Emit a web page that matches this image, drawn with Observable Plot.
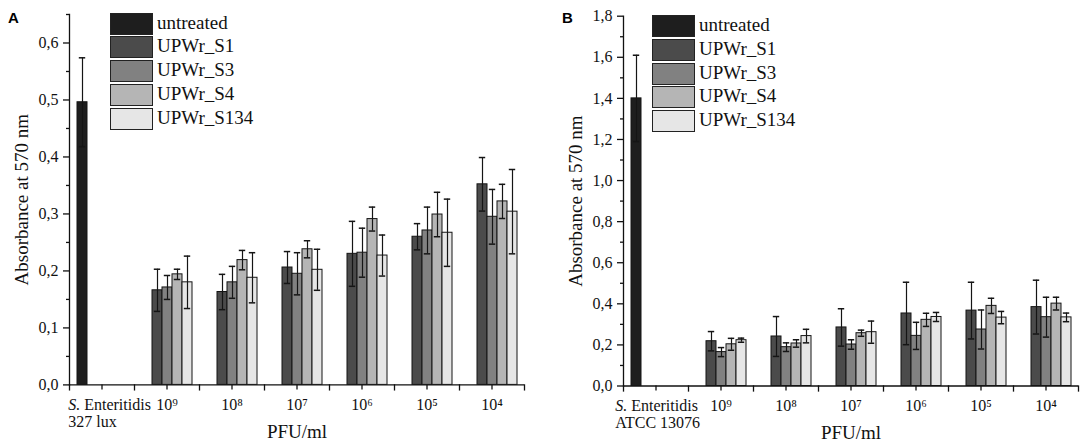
<!DOCTYPE html>
<html>
<head>
<meta charset="utf-8">
<script src="https://cdn.jsdelivr.net/npm/d3@7"></script>
<script src="https://cdn.jsdelivr.net/npm/@observablehq/plot@0.6"></script>
<style>
  html, body { margin: 0; padding: 0; background: #fff; }
  #root { position: relative; width: 1084px; height: 444px; overflow: hidden; font-family: "Liberation Serif", "Times New Roman", serif; }
  .panel { position: absolute; top: 0; }
  .letter { position: absolute; font-family: "Liberation Sans", Arial, sans-serif; font-weight: bold; font-size: 15px; }
  .legend { position: absolute; }
  .legend .row { position: absolute; left: 0; height: 21px; white-space: nowrap; }
  .legend .sw { position: absolute; left: 0; top: 0; width: 41px; height: 20px; border: 1px solid #222; box-sizing: content-box; }
  .legend .lb { position: absolute; left: 47px; top: -1px; font-size: 19px; line-height: 22px; color: #111; }
  g[aria-label="y-axis label"] text, g[aria-label="fx-axis label"] text { font-size: 19px; }
</style>
</head>
<body>
<div id="root"></div>
<script>
// ---- data ----
const series = ["untreated", "UPWr_S1", "UPWr_S3", "UPWr_S4", "UPWr_S134"];
const doses = ["10⁹", "10⁸", "10⁷", "10⁶", "10⁵", "10⁴"];
const controlA = "S. Enteritidis\n327 lux";
const controlB = "S. Enteritidis\nATCC 13076";

// Panel A
const untreatedA = 0.496, untreatedErrA = 0.078;
const s1A    = [0.166, 0.163, 0.206, 0.230, 0.260, 0.352];
const s1ErrA = [0.037, 0.031, 0.028, 0.057, 0.023, 0.047];
const s3A    = [0.171, 0.180, 0.195, 0.232, 0.271, 0.295];
const s3ErrA = [0.021, 0.028, 0.037, 0.043, 0.041, 0.048];
const s4A    = [0.194, 0.219, 0.238, 0.291, 0.299, 0.322];
const s4ErrA = [0.009, 0.017, 0.015, 0.021, 0.039, 0.030];
const s134A    = [0.180, 0.188, 0.202, 0.227, 0.267, 0.304];
const s134ErrA = [0.046, 0.044, 0.036, 0.036, 0.059, 0.074];

// Panel B
const untreatedB = 1.400, untreatedErrB = 0.210;
const s1B    = [0.218, 0.241, 0.285, 0.353, 0.367, 0.384];
const s1ErrB = [0.047, 0.097, 0.091, 0.152, 0.138, 0.131];
const s3B    = [0.165, 0.189, 0.202, 0.244, 0.275, 0.335];
const s3ErrB = [0.022, 0.021, 0.023, 0.066, 0.095, 0.097];
const s4B    = [0.203, 0.207, 0.257, 0.322, 0.390, 0.401];
const s4ErrB = [0.029, 0.018, 0.015, 0.032, 0.037, 0.031];
const s134B    = [0.223, 0.243, 0.262, 0.336, 0.333, 0.334];
const s134ErrB = [0.010, 0.033, 0.054, 0.022, 0.030, 0.021];

const yTicksA = d3.range(0, 0.61, 0.1);
const yMinorA = d3.range(0.05, 0.651, 0.1);
const yTicksB = d3.range(0, 1.81, 0.2);
const yMinorB = d3.range(0.1, 1.8, 0.2);

// ---- styles ----
const colors = ["#1e1e1e", "#4b4b4b", "#818181", "#b5b5b5", "#e6e6e6"];
const serif = '"Liberation Serif", "Times New Roman", serif';

function buildRows(control, u, uErr, lists) {
  const rows = [{cat: control, series: series[0], value: u, err: uErr}];
  lists.forEach(([vals, errs], i) => {
    vals.forEach((v, j) => rows.push({cat: doses[j], series: series[i + 1], value: v, err: errs[j]}));
  });
  return rows;
}
const rowsA = buildRows(controlA, untreatedA, untreatedErrA, [[s1A, s1ErrA], [s3A, s3ErrA], [s4A, s4ErrA], [s134A, s134ErrA]]);
const rowsB = buildRows(controlB, untreatedB, untreatedErrB, [[s1B, s1ErrB], [s3B, s3ErrB], [s4B, s4ErrB], [s134B, s134ErrB]]);

const fmt = d => d.toFixed(1).replace(".", ",");

function panel(o) {
  const plotH = o.height - o.marginTop - o.marginBottom;
  return Plot.plot({
    width: o.width, height: o.height,
    marginLeft: o.marginLeft, marginRight: o.marginRight,
    marginTop: o.marginTop, marginBottom: o.marginBottom,
    style: {fontFamily: serif, fontSize: "16px", color: "#111", background: "transparent", overflow: "visible"},
    fx: {domain: [o.control, ...doses], padding: 0},
    x: {domain: series, paddingInner: 0, paddingOuter: 0.565, align: 0.5, axis: null},
    y: {domain: o.yDomain},
    color: {domain: series, range: colors},
    marks: [
      Plot.ruleY([0], {stroke: "#111", strokeWidth: 1.3}),
      Plot.frame({anchor: "left", facet: "super", stroke: "#111", strokeWidth: 1.3}),
      Plot.frame({anchor: "left", insetTop: plotH, insetBottom: -5, stroke: "#111", strokeWidth: 1.3}),
      Plot.frame({anchor: "right", facet: "super", insetTop: plotH, insetBottom: -5, stroke: "#111", strokeWidth: 1.3}),
      Plot.axisY(o.yTicks, {tickSize: 6, tickPadding: 5, tickFormat: fmt, strokeWidth: 1.3,
        label: "Absorbance at 570 nm", labelAnchor: "center", labelArrow: "none", labelOffset: 55}),
      Plot.axisY(o.yMinor, {tickSize: 3, tickFormat: () => "", label: null, strokeWidth: 1.3}),
      Plot.axisFx({anchor: "bottom", tickSize: 5, tickPadding: 8, strokeWidth: 1.3, lineHeight: 1.05,
        label: "PFU/ml", labelAnchor: "center", labelArrow: "none", labelOffset: 53}),
      Plot.barY(o.rows, {fx: "cat", x: "series", y: "value", fill: "series", stroke: "#151515", strokeWidth: 1, inset: 0}),
      Plot.ruleX(o.rows, {fx: "cat", x: "series", y1: d => d.value - d.err, y2: d => d.value + d.err, stroke: "#151515", strokeWidth: 1.2}),
      Plot.tickY(o.rows, {fx: "cat", x: "series", y: d => d.value + d.err, insetLeft: 1.8, insetRight: 1.8, stroke: "#151515", strokeWidth: 1.5}),
      Plot.tickY(o.rows, {fx: "cat", x: "series", y: d => d.value - d.err, insetLeft: 1.8, insetRight: 1.8, stroke: "#151515", strokeWidth: 1.5})
    ]
  });
}

function fixControlLabel(svg, shift) {
  const ns = "http://www.w3.org/2000/svg";
  svg.querySelectorAll("text").forEach(t => {
    if (!t.textContent.includes("Enteritidis")) return;
    const spans = Array.from(t.children).filter(c => c.tagName === "tspan");
    if (!spans.length) return;
    const first = spans[0];
    let w = 84;
    try { w = first.getComputedTextLength(); } catch (e) {}
    const txt = first.textContent;
    first.textContent = "";
    const it = document.createElementNS(ns, "tspan");
    it.setAttribute("font-style", "italic");
    it.textContent = txt.slice(0, 2);
    first.appendChild(it);
    first.appendChild(document.createTextNode(txt.slice(2)));
    t.setAttribute("text-anchor", "start");
    spans.forEach(s => s.setAttribute("x", -w / 2 + shift));
  });
}

function addLegend(root, left, top) {
  const lg = document.createElement("div");
  lg.className = "legend";
  lg.style.left = left + "px";
  lg.style.top = top + "px";
  series.forEach((s, i) => {
    const row = document.createElement("div");
    row.className = "row";
    row.style.top = (i * 23.8) + "px";
    const sw = document.createElement("div");
    sw.className = "sw";
    sw.style.background = colors[i];
    const lb = document.createElement("div");
    lb.className = "lb";
    lb.textContent = s;
    row.appendChild(sw); row.appendChild(lb);
    lg.appendChild(row);
  });
  root.appendChild(lg);
}

const root = document.getElementById("root");

const pA = document.createElement("div");
pA.className = "panel"; pA.style.left = "0px";
root.appendChild(pA);
const svgA = panel({control: controlA, rows: rowsA, yDomain: [0, 0.65], yTicks: yTicksA, yMinor: yMinorA,
  width: 545, height: 444, marginLeft: 67, marginRight: 19, marginTop: 14, marginBottom: 59.6});
pA.appendChild(svgA);
fixControlLabel(svgA, 8);

const pB = document.createElement("div");
pB.className = "panel"; pB.style.left = "545px";
root.appendChild(pB);
const svgB = panel({control: controlB, rows: rowsB, yDomain: [0, 1.8], yTicks: yTicksB, yMinor: yMinorB,
  width: 539, height: 444, marginLeft: 76, marginRight: 3.5, marginTop: 15.7, marginBottom: 58.5});
pB.appendChild(svgB);
fixControlLabel(svgB, 1);

addLegend(root, 110, 12.7);
addLegend(root, 652, 15);

const la = document.createElement("div"); la.className = "letter"; la.textContent = "A";
la.style.left = "8px"; la.style.top = "9px"; root.appendChild(la);
const lbB = document.createElement("div"); lbB.className = "letter"; lbB.textContent = "B";
lbB.style.left = "562px"; lbB.style.top = "9px"; root.appendChild(lbB);
</script>
</body>
</html>
